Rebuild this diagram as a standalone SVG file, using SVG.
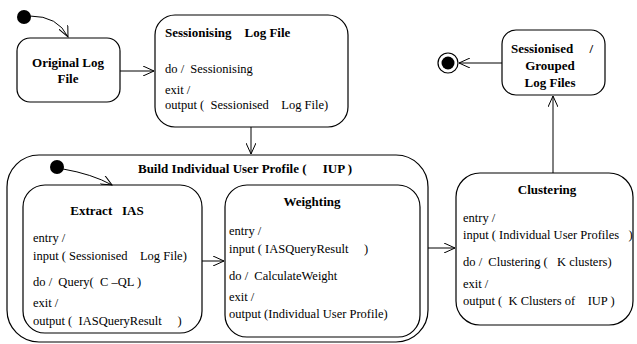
<svg xmlns="http://www.w3.org/2000/svg" width="637" height="344" viewBox="0 0 637 344">
  <defs>
    <marker id="open" viewBox="0 0 12 10" refX="11" refY="5" markerWidth="12" markerHeight="10" markerUnits="userSpaceOnUse" orient="auto">
      <path d="M0 0 L11 5 L0 10" fill="none" stroke="#000" stroke-width="1"/>
    </marker>
  </defs>
  <style>
    .box { fill: #fff; stroke: #000; stroke-width: 1.2; }
    .edge { fill: none; stroke: #000; stroke-width: 1; marker-end: url(#open); }
    text { font-family: 'Liberation Serif', 'DejaVu Serif', serif; fill: #000; }
    .t { font-size: 12.5px; }
    .h { font-size: 13px; font-weight: bold; }
    .c { text-anchor: middle; }
  </style>

  <rect width="637" height="344" fill="#fff"/>

  <!-- composite state: Build IUP -->
  <g id="build-iup">
    <rect class="box" x="7" y="155" width="421" height="187" rx="32" ry="32"/>
    <text class="h c" x="245" y="173" xml:space="preserve">Build Individual User Profile (     IUP )</text>
    <circle cx="57" cy="167" r="7" fill="#000"/>
  </g>

  <g id="initial">
    <circle cx="24" cy="17" r="7" fill="#000"/>
  </g>

  <g id="original-log">
    <rect class="box" x="17" y="38" width="103" height="64" rx="13" ry="13"/>
    <text class="h c" x="68" y="67">Original Log</text>
    <text class="h c" x="68" y="83">File</text>
  </g>

  <g id="sessionising">
    <rect class="box" x="155" y="15" width="193" height="112" rx="20" ry="20"/>
    <text class="h" x="165" y="37" xml:space="preserve">Sessionising    Log File</text>
    <text class="t" x="165" y="73" xml:space="preserve">do /  Sessionising</text>
    <text class="t" x="165" y="94" xml:space="preserve">exit /</text>
    <text class="t" x="165" y="109" xml:space="preserve">output (  Sessionised    Log File)</text>
  </g>

  <g id="extract-ias">
    <rect class="box" x="23" y="185" width="179" height="148" rx="22" ry="22"/>
    <text class="h c" x="107" y="215" xml:space="preserve">Extract   IAS</text>
    <text class="t" x="33" y="242" xml:space="preserve">entry /</text>
    <text class="t" x="33" y="260" xml:space="preserve">input ( Sessionised    Log File)</text>
    <text class="t" x="33" y="286" xml:space="preserve">do /  Query(  C –QL )</text>
    <text class="t" x="33" y="307" xml:space="preserve">exit /</text>
    <text class="t" x="33" y="325" xml:space="preserve">output (  IASQueryResult     )</text>
  </g>

  <g id="weighting">
    <rect class="box" x="225" y="185" width="195" height="152" rx="22" ry="22"/>
    <text class="h c" x="312" y="206">Weighting</text>
    <text class="t" x="229" y="235" xml:space="preserve">entry /</text>
    <text class="t" x="229" y="253" xml:space="preserve">input ( IASQueryResult     )</text>
    <text class="t" x="229" y="280" xml:space="preserve">do /  CalculateWeight</text>
    <text class="t" x="229" y="301" xml:space="preserve">exit /</text>
    <text class="t" x="229" y="318" xml:space="preserve">output (Individual User Profile)</text>
  </g>

  <g id="clustering">
    <rect class="box" x="456" y="173" width="177" height="152" rx="24" ry="24"/>
    <text class="h c" x="547" y="194">Clustering</text>
    <text class="t" x="463" y="222" xml:space="preserve">entry /</text>
    <text class="t" x="463" y="239" xml:space="preserve">input ( Individual User Profiles   )</text>
    <text class="t" x="463" y="266" xml:space="preserve">do /  Clustering (   K clusters)</text>
    <text class="t" x="463" y="288" xml:space="preserve">exit /</text>
    <text class="t" x="463" y="305" xml:space="preserve">output (  K Clusters of    IUP )</text>
  </g>

  <g id="grouped-logs">
    <rect class="box" x="502" y="30" width="103" height="65" rx="14" ry="14"/>
    <text class="h c" x="552" y="53" xml:space="preserve">Sessionised     /</text>
    <text class="h c" x="550" y="70">Grouped</text>
    <text class="h c" x="550" y="87">Log Files</text>
  </g>

  <g id="final">
    <circle cx="448" cy="63" r="10" fill="#fff" stroke="#000" stroke-width="1.2"/>
    <circle cx="448" cy="63" r="6.5" fill="#000"/>
  </g>

  <g id="connectors">
    <path class="edge" d="M30 16 Q58 16 68 37"/>
    <path class="edge" d="M120 71 L154 71"/>
    <path class="edge" d="M251 127 L251 154"/>
    <path class="edge" d="M63 169 Q92 174 112 185"/>
    <path class="edge" d="M202 261 L224 261"/>
    <path class="edge" d="M428 248 L455 248"/>
    <path class="edge" d="M553 173 L553 96"/>
    <path class="edge" d="M502 63 L459 63"/>
  </g>
</svg>
